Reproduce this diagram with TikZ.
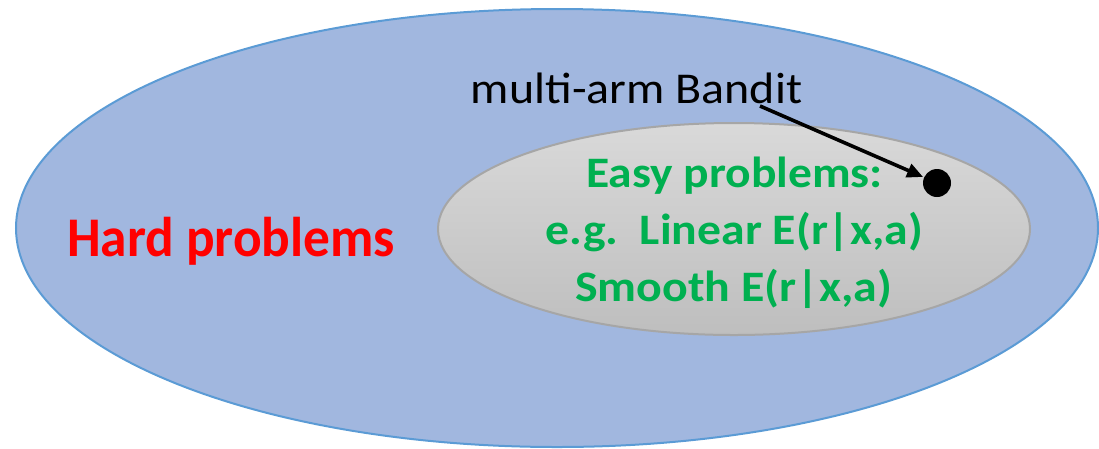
\documentclass[tikz,border=0pt]{standalone}
\usepackage{fontspec}
\usepackage{graphicx}
\setmainfont{Carlito}
\usetikzlibrary{arrows.meta}
\definecolor{outerfill}{HTML}{A1B7DF}
\definecolor{outerline}{HTML}{5B9BD5}
\definecolor{innerline}{HTML}{A6A6A6}
\definecolor{innertop}{HTML}{D9D9D9}
\definecolor{innerbot}{HTML}{BEBEBE}
\definecolor{easygreen}{HTML}{00B050}
\definecolor{hardred}{HTML}{FF0000}
\tikzset{
  lbl/.style={inner sep=0pt, anchor=base},
  easytxt/.style={lbl, text=easygreen, font=\fontsize{43.5}{52}\selectfont\bfseries},
  pointer/.style={line width=3.6pt, -{Triangle[length=16pt,width=14pt]}, shorten >=1pt}
}
\begin{document}
\begin{tikzpicture}[x=1pt,y=-1pt]
\useasboundingbox (0,0) rectangle (1099,448);
\draw[draw=outerline, line width=2pt, fill=outerfill] (557,228) ellipse [x radius=541, y radius=219];
\draw[draw=innerline, line width=2pt, top color=innertop, bottom color=innerbot] (734,229) ellipse [x radius=296, y radius=106];
\node[lbl, text=hardred, font=\fontsize{56}{67}\selectfont\bfseries] (hard) at (231,256) {\scalebox{0.953}[1]{Hard problems}};
\node[lbl, font=\fontsize{44}{53}\selectfont] (bandit) at (636.5,103) {\scalebox{1.09}[1]{multi-arm Bandit}};
\node[easytxt] (e1) at (734.5,187) {\scalebox{1.093}[1]{Easy problems:}};
\node[easytxt] (e2) at (734.5,244) {\scalebox{1.097}[1]{e.g.\ \ Linear E(r|x,a)}};
\node[easytxt] (e3) at (733.5,301) {\scalebox{1.1}[1]{Smooth E(r|x,a)}};
\node[circle, fill=black, minimum size=28pt, inner sep=0pt] (dot) at (937,183) {};
\coordinate (start) at (760,106);
\draw[pointer] (start) -- (dot);
\end{tikzpicture}
\end{document}
